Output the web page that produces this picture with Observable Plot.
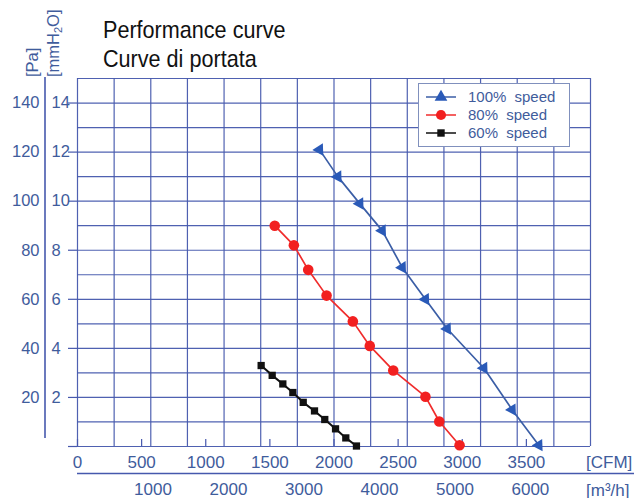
<!DOCTYPE html>
<html><head><meta charset="utf-8">
<script src="https://cdn.jsdelivr.net/npm/d3@7"></script>
<script src="https://cdn.jsdelivr.net/npm/@observablehq/plot@0.6"></script>
<style>
html,body{margin:0;padding:0;background:#fff;}
#wrap{position:relative;width:639px;height:498px;overflow:hidden;}
#wrap > svg{position:absolute;left:0;top:0;}
</style></head><body><div id="wrap"></div>
<script>
// ---- data ----
const titleLines = ["Performance curve", "Curve di portata"];
const seriesNames = ["100%  speed", "80%  speed", "60%  speed"];
const seriesColors = ["#3b5ea6", "#f02c2c", "#111111"];
const markerColors = ["#2a5ab8", "#f22020", "#111111"];
const seriesSymbols = ["triangle", "circle", "square"];

const flow100 = [1887, 2030, 2201, 2376, 2532, 2713, 2883, 3168, 3389, 3597];
const pa100   = [121, 110, 99, 88, 73, 60, 48, 32, 15, 0.5];
const flow80  = [1538, 1687, 1799, 1942, 2147, 2279, 2462, 2713, 2821, 2979];
const pa80    = [90, 82, 72, 61.5, 51, 41, 31, 20.3, 10.2, 0.5];
const flow60  = [1432, 1518, 1601, 1679, 1760, 1848, 1928, 2012, 2092, 2175];
const pa60    = [33, 29, 25.5, 22, 18, 14.5, 11, 7.2, 3.5, 0.2];

const cfmTicks = [0, 500, 1000, 1500, 2000, 2500, 3000, 3500];
const m3hTicks = [1000, 2000, 3000, 4000, 5000, 6000];
const paTicks = [0, 20, 40, 60, 80, 100, 120, 140];
const paLabels = [20, 40, 60, 80, 100, 120, 140];
const unitX = ["[CFM]", "[m³/h]"];
const unitY = ["[Pa]", "[mmH", "2", "O]"];

// ---- setup ----
const M3H_TO_CFM = 1 / 1.699;
const gridColor = "#4658ad";
const axisColor = "#3f5c9c";
const font = "'Liberation Sans', Arial, sans-serif";
const gridXVals = d3.range(15).map(i => i * 4000 / 14);
const gridYVals = d3.range(0, 151, 10);

const seriesData = [[flow100, pa100], [flow80, pa80], [flow60, pa60]].map(([f, p], i) =>
  f.map((x, j) => ({series: seriesNames[i], cfm: x, pa: p[j]})));

const dotOpts = [
  {r: 4.6, rotate: 148},
  {r: 5.3, rotate: 0},
  {r: 4.1, rotate: 0}
];

const marks = [
  Plot.gridX(gridXVals, {stroke: gridColor, strokeOpacity: 0.95, strokeWidth: 1.2}),
  Plot.gridY(gridYVals, {stroke: gridColor, strokeOpacity: 0.95, strokeWidth: 1.2}),
  Plot.axisY({ticks: paTicks, tickSize: 9, text: null, label: null, stroke: gridColor, strokeWidth: 1.2}),
  Plot.axisX({ticks: cfmTicks, tickSize: -7, text: null, label: null, stroke: gridColor, strokeWidth: 1.2}),
  Plot.text(paLabels, {y: d => d, text: d => String(d), frameAnchor: "left", textAnchor: "end", dx: -38, fontSize: 16.5, fill: axisColor}),
  Plot.text(paLabels, {y: d => d, text: d => String(d / 10), frameAnchor: "left", textAnchor: "start", dx: -26, fontSize: 16.5, fill: axisColor}),
  Plot.ruleX([0], {dx: -32.5, insetBottom: 8, insetTop: -1, stroke: gridColor, strokeWidth: 1.6}),
  Plot.text(cfmTicks, {x: d => d, text: d => String(d), frameAnchor: "bottom", lineAnchor: "top", dy: 9, fontSize: 17, fill: axisColor}),
  Plot.text(m3hTicks, {x: d => d * M3H_TO_CFM, text: d => String(d), frameAnchor: "bottom", lineAnchor: "top", dy: 36, fontSize: 17, fill: axisColor}),
  Plot.ruleY([0], {dy: 27, insetRight: -44, stroke: gridColor, strokeWidth: 1.6}),
];
seriesData.forEach((rows, i) => {
  marks.push(Plot.line(rows, {x: "cfm", y: "pa", stroke: seriesColors[i], strokeWidth: i === 2 ? 2 : 1.7}));
  marks.push(Plot.dot(rows, {x: "cfm", y: "pa", symbol: () => seriesSymbols[i], fill: markerColors[i], stroke: "none", r: dotOpts[i].r, rotate: dotOpts[i].rotate}));
});

const chart = Plot.plot({
  width: 639, height: 498,
  marginLeft: 77, marginRight: 49, marginTop: 78, marginBottom: 52,
  x: {domain: [0, 4000], label: null},
  y: {domain: [0, 150], label: null},
  symbol: {domain: seriesSymbols, range: seriesSymbols},
  style: {fontFamily: font, background: "white", overflow: "visible"},
  marks
});
const wrap = document.getElementById("wrap");
wrap.appendChild(chart);

// ---- overlay: title, unit labels, legend ----
const ov = d3.select(wrap).append("svg")
  .attr("width", 639).attr("height", 498)
  .style("font-family", font);

ov.selectAll("text.title").data(titleLines).join("text")
  .attr("class", "title")
  .attr("transform", (d, i) => `translate(103,${37.5 + i * 29}) scale(0.9,1)`)
  .attr("font-size", 24).attr("fill", "#111").text(d => d);

// Y unit labels (rotated)
ov.append("text").attr("transform", "translate(38,77) rotate(-90)")
  .attr("font-size", 16.5).attr("fill", axisColor).text(unitY[0]);
const mm = ov.append("text").attr("transform", "translate(59,77) rotate(-90)")
  .attr("font-size", 16.5).attr("fill", axisColor);
mm.append("tspan").text(unitY[1]);
mm.append("tspan").attr("font-size", 11).attr("dy", 3).text(unitY[2]);
mm.append("tspan").attr("dy", -3).text(unitY[3]);

// X unit labels
ov.selectAll("text.unitx").data(unitX).join("text")
  .attr("class", "unitx")
  .attr("x", 586).attr("y", (d, i) => 468 + i * 27.5)
  .attr("font-size", 17).attr("fill", axisColor).text(d => d);

// legend
const lg = ov.append("g");
lg.append("rect").attr("x", 418.5).attr("y", 83.5).attr("width", 151).attr("height", 63)
  .attr("fill", "white").attr("stroke", "#8090bd").attr("stroke-width", 1);
const symMap = {triangle: d3.symbolTriangle, circle: d3.symbolCircle, square: d3.symbolSquare};
const symSize = {triangle: 70, circle: 80, square: 55};
seriesNames.forEach((name, i) => {
  const cy = 97 + i * 18;
  lg.append("line").attr("x1", 426).attr("x2", 456).attr("y1", cy).attr("y2", cy)
    .attr("stroke", seriesColors[i]).attr("stroke-width", 1.5);
  lg.append("path").attr("transform", `translate(441,${cy})`)
    .attr("d", d3.symbol(symMap[seriesSymbols[i]], symSize[seriesSymbols[i]])())
    .attr("fill", markerColors[i]);
  lg.append("text").attr("x", 468).attr("y", cy + 5.3)
    .attr("font-size", 15).attr("fill", axisColor)
    .attr("word-spacing", 4)
    .text(name.replace(/\s+/g, " "));
});
</script>
</body></html>
